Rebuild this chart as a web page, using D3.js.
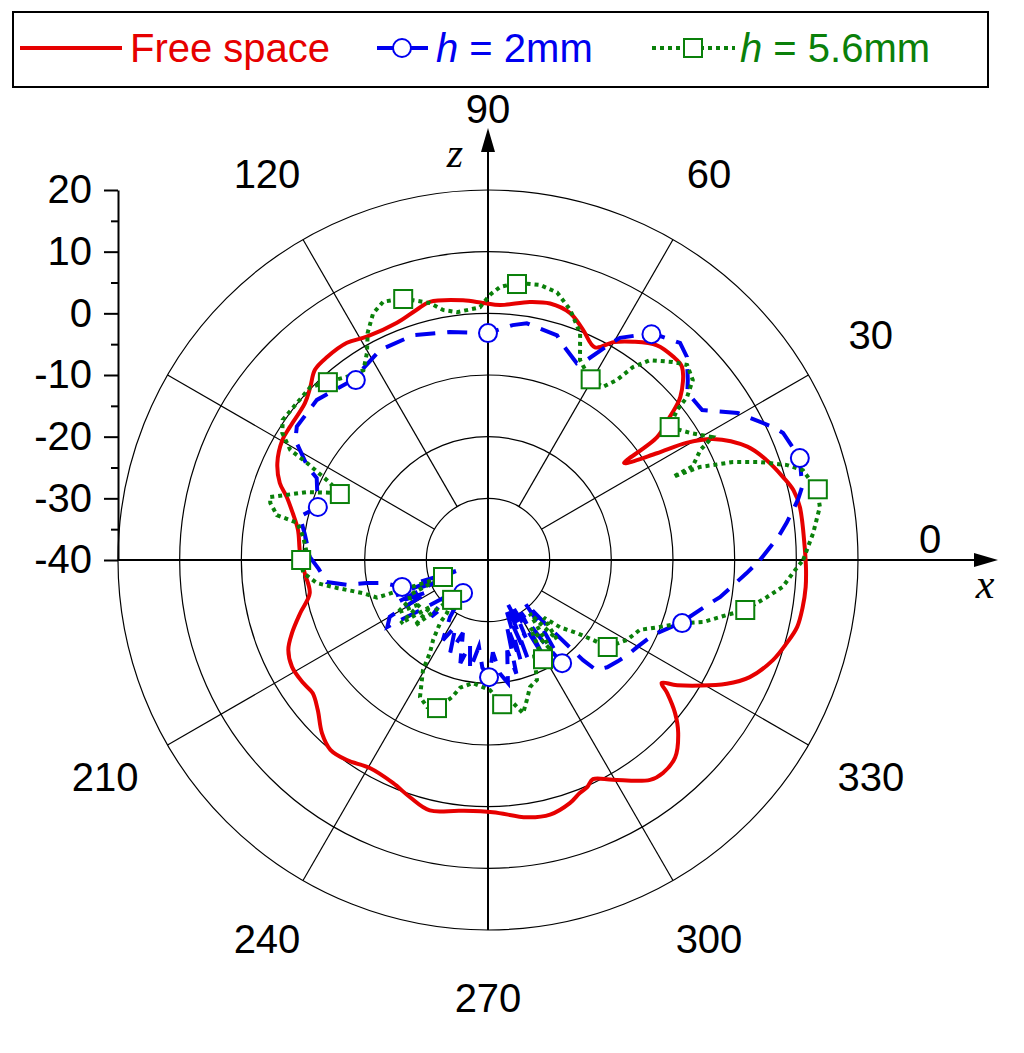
<!DOCTYPE html>
<html>
<head>
<meta charset="utf-8">
<script src="https://cdn.jsdelivr.net/npm/d3@7"></script>
<style>
body { margin: 0; background: #fff; }
svg { display: block; }
text { font-family: Arial, "Liberation Sans", sans-serif; }
</style>
</head>
<body>
<div id="chart"></div>
<script>
// ---- data (angle in degrees, gain in dB) ----
const seriesNames = ['Free space', 'h = 2mm', 'h = 5.6mm'];

const freeAngle = [0, 2.3, 9.6, 12.9, 15.7, 19.7, 23.6, 28.3, 30.5, 32.3, 34.9, 35.5, 36, 38.2, 40.3, 44.9, 47.7, 51.8, 56.4, 60, 63.3, 67.6, 71.6, 76.4, 80.8, 87.3, 91.1, 95.5, 102.7, 105.9, 111, 118.5, 123, 128.4, 132.3, 135.8, 139.4, 146.1, 149.8, 155.3, 159.7, 162.6, 166.4, 171, 177.9, 184.1, 190.5, 195.7, 200.4, 204.2, 208.6, 213.6, 217.2, 221.4, 226.2, 230.3, 234.8, 240.4, 246.9, 251.8, 256.9, 263.6, 271.1, 278.6, 283.7, 288.6, 291.5, 293.6, 295.6, 299.6, 306.4, 309.4, 313.5, 317.7, 320.7, 323.4, 324.7, 326.5, 332.6, 335.9, 340.7, 344.5, 347.8, 351.5, 355.1, 358.2, 360];
const freeDb = [11.5, 11.4, 11.3, 10.8, 9.7, 8.0, 5.9, 1.4, -2.5, -7.6, -12.5, -12.9, -6.1, -2.5, 0.9, 4.4, 4.6, 4.3, 2.5, 0.8, -1.4, 0.4, 2.2, 2.8, 2.4, 1.4, 1.7, 2.3, 2.9, 2.2, 1.2, 1.2, 2.0, 2.0, 1.7, 0.2, -0.9, -1.3, -1.4, -2.4, -4.0, -5.8, -7.4, -8.8, -9.5, -10.2, -10.6, -8.4, -6.1, -4.5, -3.8, -4.0, -4.3, -3.2, -1.1, 0.0, -0.3, -1.2, -0.7, 0.5, 1.7, 0.9, 0.9, 2.2, 2.5, 1.6, 0.6, 0.2, -0.6, 1.0, 4.3, 4.7, 4.1, 1.7, -0.8, -3.8, -5.5, -3.2, 3.6, 6.5, 9.0, 10.3, 11.3, 11.6, 11.7, 11.6, 11.5];

const h2Angle = [0, 4.5, 7.1, 11, 13.1, 18.1, 23.3, 25, 30.5, 35, 40, 42, 45.6, 48.5, 54.1, 59.3, 60.2, 63.7, 65.7, 71.2, 72.9, 80.7, 84, 90, 99.5, 108.4, 117.2, 126.9, 136.9, 145.1, 148.1, 152.7, 154.4, 162.7, 167, 172, 179, 183, 187.8, 190, 190.8, 192.4, 197.4, 199, 201, 203, 205, 208, 210, 213.6, 217, 221, 225, 229, 232.9, 236.3, 240.6, 244, 247.8, 251, 255, 258, 260.7, 264, 267, 270.5, 273, 276, 279.2, 282, 284, 286, 288, 290, 292, 294, 296, 298, 300, 302, 304, 305.7, 308, 310.7, 312, 313.5, 314.5, 318, 322, 326, 329.7, 335.6, 341.8, 349, 350.9, 357.1, 360];
const h2Db = [4.1, 7.2, 8.8, 11.2, 12.3, 13.2, 12.1, 11.0, 7.0, 2.4, 2.2, 3.6, 6.1, 7.0, 5.4, 1.9, 0.7, -3.8, -5.0, -2.9, -1.9, -1.1, -1.7, -3.2, -2.5, -1.6, -1.7, -3.5, -2.0, -2.2, -3.2, -7.1, -9.2, -11.1, -8.7, -10.0, -11.1, -12.5, -13.6, -16.8, -20.0, -22.6, -25.4, -34.5, -24.0, -30.5, -23.7, -29.0, -21.6, -20.4, -27.0, -31.0, -27.0, -32.0, -33.3, -28.9, -25.1, -28.0, -23.8, -27.5, -22.7, -26.0, -22.0, -25.9, -22.5, -21.0, -25.0, -21.5, -19.8, -25.0, -21.0, -29.0, -22.8, -31.0, -23.0, -32.5, -26.0, -31.0, -22.0, -30.0, -24.0, -19.4, -25.0, -30.8, -26.0, -17.6, -15.0, -14.0, -13.3, -12.6, -12.0, -10.6, -7.2, -3.3, -1.9, 2.0, 4.1];
const h2MarkAngle = [18.1, 54.1, 90, 126.3, 162.7, 197.4, 232.9, 270.5, 305.7, 342];
const h2MarkDb = [13.2, 5.2, -3.2, -3.8, -11.1, -25.4, -33.3, -21.0, -19.4, -6.9];

const h56Angle = [0, 4.7, 9.1, 12, 15.9, 17.6, 19.8, 21.8, 23.7, 24.2, 24.6, 27.4, 28.7, 32.2, 36.2, 38.4, 39.3, 41.3, 44.4, 47, 51, 53.1, 54.4, 56.4, 60.4, 62.1, 65.3, 67.9, 71.8, 75.5, 79.3, 84, 87.5, 89.6, 91.8, 97.1, 100.2, 102.7, 108, 112.1, 115, 117.9, 120.3, 123.3, 127.6, 132.1, 135.8, 140.6, 145.7, 148.3, 150.9, 151.8, 153.6, 155.6, 159.4, 163.9, 165.3, 168, 169, 172.9, 177.8, 180, 184, 187.7, 190.5, 194.8, 198.7, 200.7, 204, 207, 210.2, 213, 216, 219, 222, 225, 228, 232.3, 232.7, 235.5, 238, 239.4, 243.6, 247.5, 251, 255.3, 257.7, 263, 270.9, 275.6, 279.9, 282.9, 285.6, 288.3, 292.2, 296, 299, 302, 305, 308, 311, 314, 317, 320.6, 322.7, 324, 330.1, 335.3, 338.7, 341.8, 343.9, 347, 349, 352.4, 354.8, 357.6, 360];
const h56Db = [11.1, 12.9, 14.5, 14.6, 13.1, 10.9, 6.9, 2.8, -2.5, -7.1, -3.5, -1.2, 1.5, -1.3, -3.5, -0.9, 1.7, 4.2, 5.2, 3.9, 1.7, -0.9, -4.1, -6.3, -6.3, -5.7, -4.3, -0.3, 2.7, 4.8, 5.4, 5.2, 4.3, 3.0, 1.0, 0.5, 1.2, 2.7, 4.6, 5.2, 4.1, 1.7, -1.1, -3.2, -2.5, -1.1, 0.2, 0.1, 0.3, -0.8, -3.3, -6.7, -10.8, -13.7, -8.7, -3.2, -3.5, -5.0, -8.5, -9.8, -10.6, -9.5, -10.0, -12.0, -15.1, -19.0, -21.0, -32.2, -26.0, -25.8, -23.0, -27.0, -22.5, -28.0, -24.0, -30.0, -31.3, -29.1, -27.2, -24.3, -22.2, -19.3, -15.2, -14.2, -14.6, -17.0, -18.8, -19.9, -18.9, -16.5, -16.5, -14.5, -16.5, -18.3, -19.0, -23.0, -21.6, -27.0, -22.0, -29.0, -23.0, -27.0, -24.0, -21.3, -18.6, -16.0, -14.0, -12.9, -10.1, -7.2, -3.7, -0.3, 2.5, 5.6, 8.0, 9.5, 11.1];
const h56MarkAngle = [12.1, 36.2, 60.4, 84, 108, 132, 156, 180, 200.7, 228, 251, 275.6, 299, 324, 349];
const h56MarkDb = [14.7, -3.5, -6.3, 5.0, 4.5, -1.2, -13.7, -9.7, -32.2, -31.3, -14.6, -16.5, -21.6, -16.0, 2.5];

const ringTicks = [-40, -30, -20, -10, 0, 10, 20];
const minorTicks = [-35, -25, -15, -5, 5, 15];
const angleLabels = [0, 30, 60, 90, 120, 210, 240, 270, 300, 330];

const colors = ['#e60000', '#0000f0', '#0a800a'];

// ---- layout ----
const W = 1024, H = 1053;
const cx = 488, cy = 560, R = 370;
const rad = a => a * Math.PI / 180;

const svg = d3.select('#chart').append('svg').attr('width', W).attr('height', H);

const r = d3.scaleLinear().domain([-40, 20]).range([0, R]).clamp(true);
const g = svg.append('g').attr('transform', `translate(${cx},${cy})`);

// grid rings
g.selectAll('.ring')
  .data(ringTicks.filter(v => v > -40))
  .enter().append('circle')
  .attr('class', 'ring')
  .attr('r', d => r(d))
  .attr('fill', 'none')
  .attr('stroke', '#000')
  .attr('stroke-width', 1.2);

// spokes (from inner ring outward)
g.selectAll('.spoke')
  .data(d3.range(0, 360, 30).filter(a => a % 90 != 0))
  .enter().append('line')
  .attr('class', 'spoke')
  .attr('x1', a => r(-30) * Math.cos(rad(a)))
  .attr('y1', a => -r(-30) * Math.sin(rad(a)))
  .attr('x2', a => R * Math.cos(rad(a)))
  .attr('y2', a => -R * Math.sin(rad(a)))
  .attr('stroke', '#000')
  .attr('stroke-width', 1.2);

// x / z axes with arrows
g.append('line').attr('x1', -R).attr('y1', 0).attr('x2', 490).attr('y2', 0)
  .attr('stroke', '#000').attr('stroke-width', 2);
g.append('line').attr('x1', 0).attr('y1', R).attr('x2', 0).attr('y2', -412)
  .attr('stroke', '#000').attr('stroke-width', 2);
g.append('path').attr('d', 'M510,0 L486,-7 L486,7 Z').attr('fill', '#000');
g.append('path').attr('d', 'M0,-432 L-7,-408 L7,-408 Z').attr('fill', '#000');

g.append('text').attr('x', -33).attr('y', -393).attr('text-anchor', 'middle')
  .style('font-family', '"Liberation Serif", "DejaVu Serif", serif')
  .style('font-style', 'italic').style('font-size', '42px').text('z');
g.append('text').attr('x', 497).attr('y', 38).attr('text-anchor', 'middle')
  .style('font-family', '"Liberation Serif", "DejaVu Serif", serif')
  .style('font-style', 'italic').style('font-size', '42px').text('x');

// angle labels
g.selectAll('.alab')
  .data(angleLabels)
  .enter().append('text')
  .attr('class', 'alab')
  .attr('x', a => 442 * Math.cos(rad(a)))
  .attr('y', a => -442 * Math.sin(rad(a)) + (a == 0 ? -17 : a == 90 ? -5 : 0))
  .attr('dy', '0.26em')
  .attr('text-anchor', 'middle')
  .style('font-size', '40px')
  .text(a => a);

// radial axis on the left
const yScale = d3.scaleLinear().domain([-40, 20]).range([cy, cy - R]);
const axisG = svg.append('g').attr('transform', `translate(${cx - R},0)`);
axisG.call(d3.axisLeft(yScale).tickValues(ringTicks).tickSize(14).tickSizeOuter(0)
  .tickPadding(12).tickFormat(d => String(d)));
axisG.call(g2 => g2.selectAll('.tick text').style('font-size', '40px')
  .style('font-family', 'Arial, "Liberation Sans", sans-serif'));
axisG.selectAll('path, line').attr('stroke', '#000').attr('stroke-width', 2);
const minorG = svg.append('g').attr('transform', `translate(${cx - R},0)`);
minorG.call(d3.axisLeft(yScale).tickValues(minorTicks).tickSize(7).tickSizeOuter(0).tickFormat(''));
minorG.select('.domain').remove();
minorG.selectAll('line').attr('stroke', '#000').attr('stroke-width', 2);

// ---- series ----
const line = d3.lineRadial()
  .angle(d => rad(90 - d[0]))
  .radius(d => r(d[1]));

const freeData = freeAngle.map((a, i) => [a, freeDb[i]]);
const h2Data = h2Angle.map((a, i) => [a, h2Db[i]]);
const h56Data = h56Angle.map((a, i) => [a, h56Db[i]]);

g.append('path').datum(freeData)
  .attr('d', line.curve(d3.curveCatmullRom.alpha(0.5)))
  .attr('fill', 'none').attr('stroke', colors[0]).attr('stroke-width', 4);

g.append('path').datum(h2Data)
  .attr('d', line.curve(d3.curveLinear))
  .attr('fill', 'none').attr('stroke', colors[1]).attr('stroke-width', 4)
  .attr('stroke-dasharray', '20,12');

g.append('path').datum(h56Data)
  .attr('d', line.curve(d3.curveLinear))
  .attr('fill', 'none').attr('stroke', colors[2]).attr('stroke-width', 4)
  .attr('stroke-dasharray', '4,4');

// markers
g.selectAll('.m2')
  .data(h2MarkAngle.map((a, i) => [a, h2MarkDb[i]]))
  .enter().append('circle')
  .attr('class', 'm2')
  .attr('cx', d => r(d[1]) * Math.cos(rad(d[0])))
  .attr('cy', d => -r(d[1]) * Math.sin(rad(d[0])))
  .attr('r', 9)
  .attr('fill', '#fff').attr('stroke', colors[1]).attr('stroke-width', 2);

g.selectAll('.m56')
  .data(h56MarkAngle.map((a, i) => [a, h56MarkDb[i]]))
  .enter().append('rect')
  .attr('class', 'm56')
  .attr('x', d => r(d[1]) * Math.cos(rad(d[0])) - 9)
  .attr('y', d => -r(d[1]) * Math.sin(rad(d[0])) - 9)
  .attr('width', 18).attr('height', 18)
  .attr('fill', '#fff').attr('stroke', colors[2]).attr('stroke-width', 2);

// ---- legend ----
const lg = svg.append('g');
lg.append('rect').attr('x', 13).attr('y', 12).attr('width', 975).attr('height', 75)
  .attr('fill', '#fff').attr('stroke', '#000').attr('stroke-width', 2);

lg.append('line').attr('x1', 20).attr('x2', 122).attr('y1', 48).attr('y2', 48)
  .attr('stroke', colors[0]).attr('stroke-width', 4);
lg.append('text').attr('x', 130).attr('y', 62).attr('fill', colors[0])
  .style('font-size', '40px').text(seriesNames[0]);

lg.append('line').attr('x1', 377).attr('x2', 428).attr('y1', 48).attr('y2', 48)
  .attr('stroke', colors[1]).attr('stroke-width', 4);
lg.append('circle').attr('cx', 402).attr('cy', 48).attr('r', 9)
  .attr('fill', '#fff').attr('stroke', colors[1]).attr('stroke-width', 2);
const t2 = lg.append('text').attr('x', 436).attr('y', 62).attr('fill', colors[1]).style('font-size', '40px');
t2.append('tspan').style('font-style', 'italic').text('h');
t2.append('tspan').text(seriesNames[1].slice(1));

lg.append('line').attr('x1', 652).attr('x2', 735).attr('y1', 48).attr('y2', 48)
  .attr('stroke', colors[2]).attr('stroke-width', 4).attr('stroke-dasharray', '4,4');
lg.append('rect').attr('x', 684).attr('y', 39).attr('width', 18).attr('height', 18)
  .attr('fill', '#fff').attr('stroke', colors[2]).attr('stroke-width', 2);
const t3 = lg.append('text').attr('x', 740).attr('y', 62).attr('fill', colors[2]).style('font-size', '40px');
t3.append('tspan').style('font-style', 'italic').text('h');
t3.append('tspan').text(seriesNames[2].slice(1));
</script>
</body>
</html>
